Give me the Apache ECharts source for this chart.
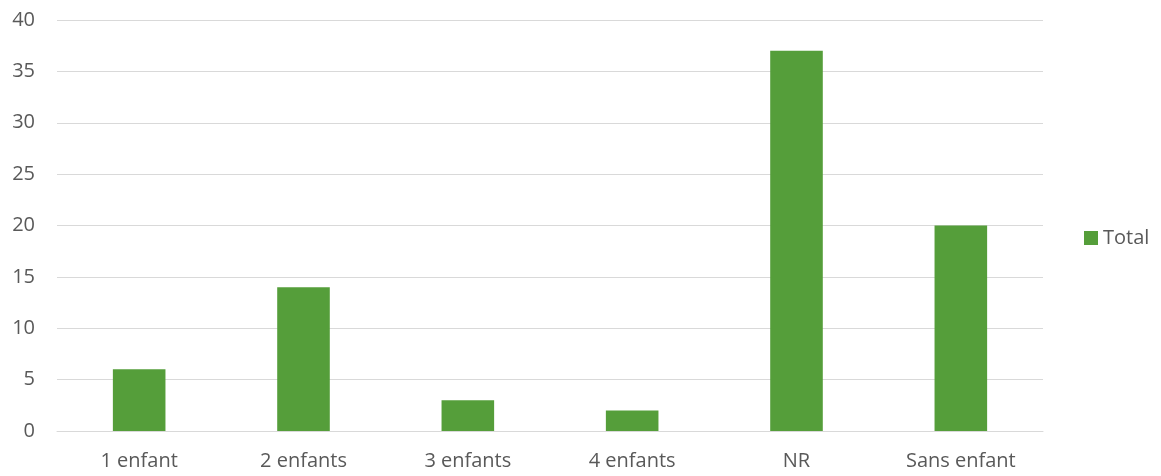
<!DOCTYPE html>
<html>
<head>
<meta charset="utf-8">
<script src="https://cdn.jsdelivr.net/npm/echarts@6/dist/echarts.min.js"></script>
<style>
html,body{margin:0;padding:0;background:#fff;}
#chart{width:1161px;height:476px;}
</style>
</head>
<body>
<div id="chart"></div>
<script>
const categories = ['1 enfant', '2 enfants', '3 enfants', '4 enfants', 'NR', 'Sans enfant'];
const totalValues = [6, 14, 3, 2, 37, 20];
const seriesName = 'Total';

const chart = echarts.init(document.getElementById('chart'), null, {renderer: 'canvas'});
const font = '"Open Sans", "Liberation Sans", sans-serif';
chart.setOption({
  animation: false,
  textStyle: {fontFamily: font},
  grid: {left: 57, right: 118, top: 20, bottom: 45, containLabel: false},
  legend: {
    data: [seriesName],
    left: 1079,
    top: 'middle',
    padding: [11, 5, 5, 5],
    orient: 'vertical',
    icon: 'rect',
    itemWidth: 14,
    itemHeight: 14,
    itemGap: 6,
    textStyle: {color: '#595959', fontSize: 20, fontFamily: font}
  },
  xAxis: {
    type: 'category',
    data: categories,
    axisLine: {show: true, lineStyle: {color: '#d9d9d9', width: 1}},
    axisTick: {show: false},
    axisLabel: {color: '#595959', fontSize: 20, margin: 20, fontFamily: font}
  },
  yAxis: {
    type: 'value',
    min: 0,
    max: 40,
    interval: 5,
    axisLine: {show: false},
    axisTick: {show: false},
    splitLine: {lineStyle: {color: '#d9d9d9', width: 1}},
    axisLabel: {color: '#595959', fontSize: 20, margin: 22, fontFamily: font}
  },
  series: [{
    name: seriesName,
    type: 'bar',
    data: totalValues,
    barWidth: '32%',
    itemStyle: {color: '#559e3a'}
  }]
});
</script>
</body>
</html>
